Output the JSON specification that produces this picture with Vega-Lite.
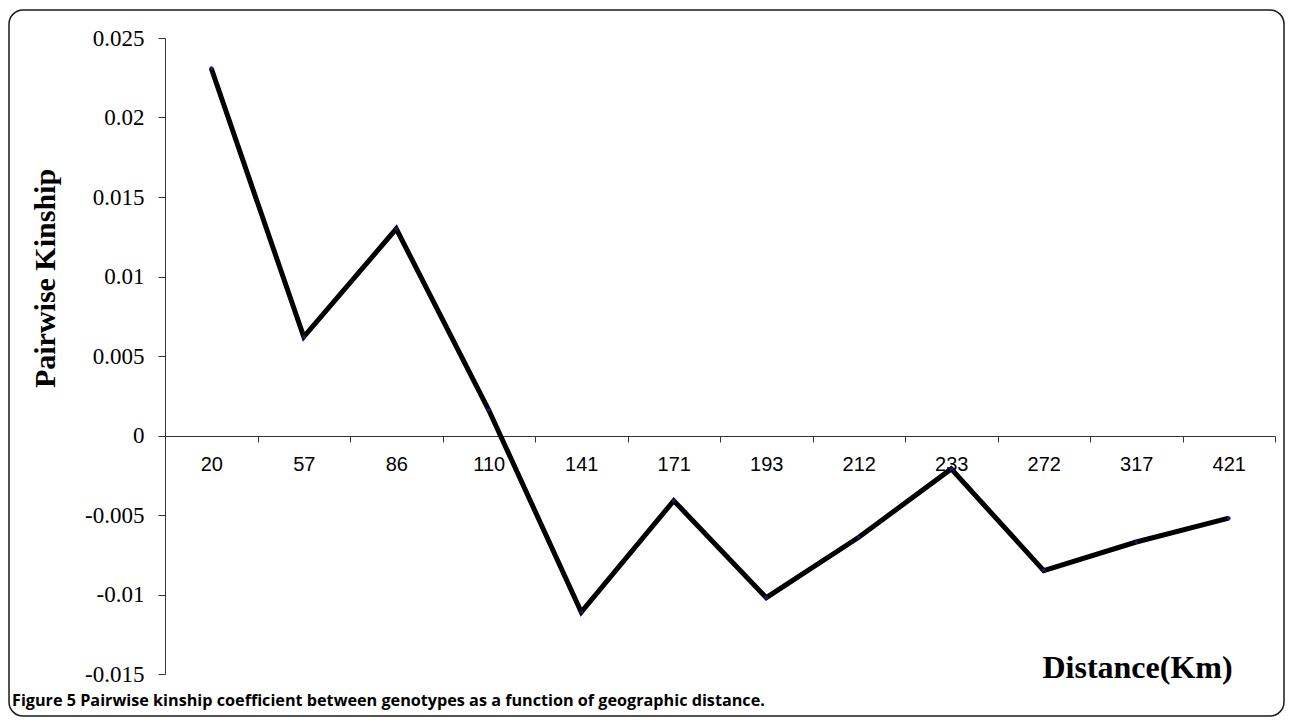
{
  "$schema": "https://vega.github.io/schema/vega-lite/v6.json",
  "autosize": "none",
  "width": 1275,
  "height": 706,
  "padding": {"left": 9, "top": 10, "right": 6, "bottom": 10},
  "background": "white",
  "config": {
    "view": {"stroke": "#1a1a1a", "strokeWidth": 1.5, "cornerRadius": 14, "fill": "white"}
  },
  "title": {
    "text": "Figure 5 Pairwise kinship coefficient between genotypes as a function of geographic distance.",
    "orient": "bottom",
    "anchor": "start",
    "frame": "group",
    "offset": -23,
    "dx": 3,
    "font": "Open Sans",
    "fontSize": 16.2,
    "fontWeight": "bold",
    "color": "#000000"
  },
  "data": {
    "values": [
      {"distance": 20, "kinship": 0.0231},
      {"distance": 57, "kinship": 0.0062},
      {"distance": 86, "kinship": 0.0130},
      {"distance": 110, "kinship": 0.0016},
      {"distance": 141, "kinship": -0.0111},
      {"distance": 171, "kinship": -0.0041},
      {"distance": 193, "kinship": -0.0102},
      {"distance": 212, "kinship": -0.0064},
      {"distance": 233, "kinship": -0.0021},
      {"distance": 272, "kinship": -0.0085},
      {"distance": 317, "kinship": -0.0067},
      {"distance": 421, "kinship": -0.0052}
    ]
  },
  "encoding": {
    "x": {
      "field": "distance",
      "type": "ordinal",
      "scale": {"type": "band", "range": [156, 1266], "paddingInner": 0, "paddingOuter": 0},
      "axis": {
        "orient": "bottom",
        "offset": -280,
        "tickBand": "extent",
        "tickSize": 6,
        "tickColor": "#333333",
        "domainColor": "#333333",
        "domainWidth": 1,
        "labelAngle": 0,
        "labelFont": "Liberation Sans",
        "labelFontSize": 20,
        "labelColor": "#000000",
        "labelPadding": 12,
        "title": "Distance(Km)",
        "titleFont": "Liberation Serif",
        "titleFontSize": 32,
        "titleFontWeight": "bold",
        "titleColor": "#000000",
        "titleAlign": "center",
        "titleBaseline": "middle",
        "titleAnchor": null,
        "titleX": 1128,
        "titleY": 231
      }
    },
    "y": {
      "field": "kinship",
      "type": "quantitative",
      "scale": {"domain": [-0.015, 0.025], "nice": false, "zero": false, "range": [664, 28]},
      "axis": {
        "orient": "left",
        "offset": -156,
        "values": [-0.015, -0.01, -0.005, 0, 0.005, 0.01, 0.015, 0.02, 0.025],
        "labelExpr": "'' + datum.value",
        "grid": false,
        "tickSize": 7,
        "tickColor": "#333333",
        "domainColor": "#333333",
        "domainWidth": 1,
        "labelFont": "Liberation Serif",
        "labelFontSize": 23,
        "labelColor": "#000000",
        "labelPadding": 14,
        "title": "Pairwise Kinship",
        "titleFont": "Liberation Serif",
        "titleFontSize": 30,
        "titleFontWeight": "bold",
        "titleColor": "#000000",
        "titleAngle": -90,
        "titleAlign": "center",
        "titleBaseline": "middle",
        "titleAnchor": null,
        "titleX": -120,
        "titleY": 268
      }
    }
  },
  "layer": [
    {"mark": {"type": "line", "color": "#000000", "strokeWidth": 5, "strokeJoin": "miter"}},
    {"mark": {"type": "point", "filled": true, "color": "#1a1a6e", "size": 14, "opacity": 1}}
  ]
}
